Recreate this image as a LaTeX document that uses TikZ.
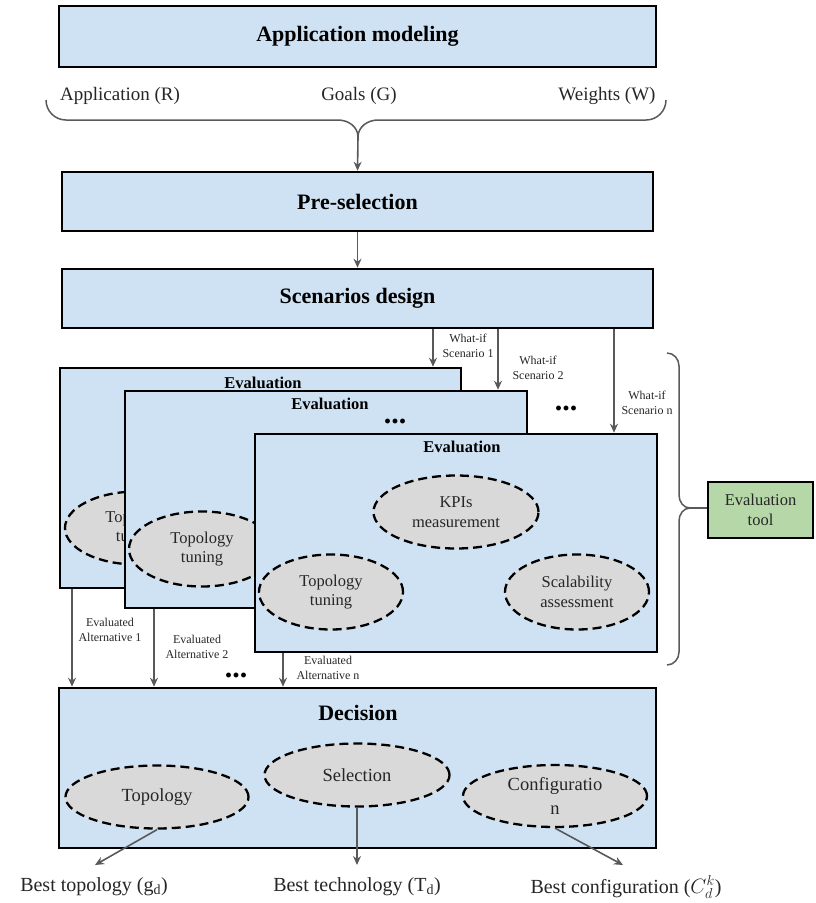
\documentclass[tikz,border=0pt]{standalone}
\usepackage{fontspec}
\setmainfont{Liberation Serif}
\usetikzlibrary{arrows.meta,shapes.geometric}
\definecolor{boxblue}{HTML}{CFE2F3}
\definecolor{ovalgray}{HTML}{D9D9D9}
\definecolor{toolgreen}{HTML}{B6D7A8}
\definecolor{arrgray}{HTML}{595959}
\tikzset{
    stage/.style={draw=black, line width=2.6pt, fill=boxblue, inner sep=0pt,
        font=\fontsize{22}{24}\selectfont\bfseries},
    evalbox/.style={draw=black, line width=2.6pt, fill=boxblue, inner sep=0pt},
    evtitle/.style={font=\fontsize{16.5}{18}\selectfont\bfseries},
    task/.style={ellipse, draw=black, line width=2.3pt, dash pattern=on 9pt off 5pt,
        fill=ovalgray, inner sep=0pt, align=center, text=black!85,
        font=\fontsize{16.5}{19.5}\selectfont},
    small/.style={font=\fontsize{12}{14.5}\selectfont, align=center, text=black!85},
    input/.style={font=\fontsize{19}{21}\selectfont, text=black!85},
    result/.style={font=\fontsize{20}{22}\selectfont, text=black!85},
    arr/.style={draw=arrgray, line width=1.6pt, -{Stealth[length=9pt,width=8pt]}},
    brace/.style={draw=arrgray, line width=1.5pt},
    dots/.style={font=\fontsize{30}{30}\selectfont\bfseries, inner sep=0pt,
        text height=5pt, text depth=0pt},
}
\begin{document}
\begin{tikzpicture}[x=1pt,y=-1pt]
    \useasboundingbox (0,0) rectangle (816,903);
    % top stages
    \node[stage, minimum width=597pt, minimum height=61pt] (appmod) at (357.5,36.5) {Application modeling};
    \node[input] (appR) at (120,96) {Application (R)};
    \node[input] (goals) at (359,96) {Goals (G)};
    \node[input] (weights) at (607,96) {Weights (W)};
    \draw[brace] (46,100) to[out=-90,in=180] (66,120) -- (338,120) to[out=0,in=90] (358,137);
    \draw[brace] (666,100) to[out=-90,in=0] (646,120) -- (378,120) to[out=180,in=90] (358,137);
    \coordinate (toptip) at (358,137);
    \node[stage, minimum width=591pt, minimum height=59pt] (presel) at (357.5,201.5) {Pre-selection};
    \node[stage, minimum width=591pt, minimum height=59pt] (scen) at (357.5,298.5) {Scenarios design};
    \draw[arr] (toptip) -- (presel.north);
    \draw[arr] (presel) -- (scen);

    % evaluation boxes
    \node[evalbox, minimum width=401pt, minimum height=220pt] (eval1) at (260.5,478) {};
    \node[evtitle] (eval1t) at (263,383) {Evaluation};
    \node[task, minimum width=144pt, minimum height=73pt] (e1topo) at (137,528) {Topology\\tuning};
    \node[evalbox, minimum width=402pt, minimum height=217pt] (eval2) at (326,499.5) {};
    \node[evtitle] (eval2t) at (330,404) {Evaluation};
    \node[dots] (dots1) at (395,421) {...};
    \node[task, minimum width=146pt, minimum height=75pt] (e2topo) at (202,549) {Topology\\tuning};
    \node[evalbox, minimum width=402pt, minimum height=218pt] (eval3) at (456,543) {};
    \node[evtitle] (eval3t) at (462,447) {Evaluation};
    \node[task, minimum width=165pt, minimum height=73pt] (e3kpi) at (456,512) {KPIs\\measurement};
    \node[task, minimum width=144pt, minimum height=75pt] (e3topo) at (331,592) {Topology\\tuning};
    \node[task, minimum width=144pt, minimum height=75pt] (e3scal) at (577,592) {Scalability\\assessment};
    \node[dots] (dots2) at (566,408) {...};

    % what-if scenarios
    \draw[arr] (scen.south -| 433,0) -- (eval1.north -| 433,0);
    \draw[arr] (scen.south -| 498,0) -- (eval2.north -| 498,0);
    \draw[arr] (scen.south -| 614,0) -- (eval3.north -| 614,0);
    \node[small] (wi1) at (468,346) {What-if\\Scenario 1};
    \node[small] (wi2) at (538,368) {What-if\\Scenario 2};
    \node[small] (win) at (647,403) {What-if\\Scenario n};

    % evaluation tool
    \draw[brace] (667,353) to[out=0,in=90] (679,366) -- (679,495) to[out=-90,in=180] (690,508);
    \draw[brace] (690,508) to[out=180,in=90] (679,521) -- (679,652) to[out=-90,in=0] (667,665);
    \coordinate (evtip) at (690,508);
    \node[evalbox, fill=toolgreen, minimum width=105pt, minimum height=56pt, align=center,
        font=\fontsize{16.5}{20}\selectfont, text=black!85] (evtool) at (760.5,510) {Evaluation\\tool};
    \draw[brace] (evtip) -- (evtool.west |- evtip);

    % decision
    \node[evalbox, minimum width=597pt, minimum height=160pt] (dec) at (357.5,768) {};
    \node[font=\fontsize{22}{24}\selectfont\bfseries] (dect) at (358,713) {Decision};
    \node[task, minimum width=183pt, minimum height=63pt, font=\fontsize{18.5}{24}\selectfont] (dtopo) at (157,797) {Topology};
    \node[task, minimum width=185pt, minimum height=63pt, font=\fontsize{18.5}{24}\selectfont] (dsel) at (357,775) {Selection};
    \node[task, minimum width=184pt, minimum height=62pt, font=\fontsize{18.5}{24}\selectfont] (dconf) at (555,796) {Configuratio\\n};
    \draw[arr] (eval1.south -| 72,0) -- (dec.north -| 72,0);
    \draw[arr] (eval2.south -| 154,0) -- (dec.north -| 154,0);
    \draw[arr] (eval3.south -| 283,0) -- (dec.north -| 283,0);
    \node[small] (ea1) at (110,630) {Evaluated\\Alternative 1};
    \node[small] (ea2) at (197,647) {Evaluated\\Alternative 2};
    \node[small] (ean) at (328,668) {Evaluated\\Alternative n};
    \node[dots] (dots3) at (236,675) {...};

    % results
    \node[result] (besttopo) at (94,887) {Best topology (g\textsubscript{d})};
    \node[result] (besttech) at (357,887) {Best technology (T\textsubscript{d})};
    \node[result] (bestconf) at (626,887) {Best configuration ($C_d^k$)};
    \draw[arr] (dtopo.south) -- (95,865);
    \draw[arr] (dsel.south) -- (357,865);
    \draw[arr] (dconf.south) -- (623,865);
\end{tikzpicture}
\end{document}
